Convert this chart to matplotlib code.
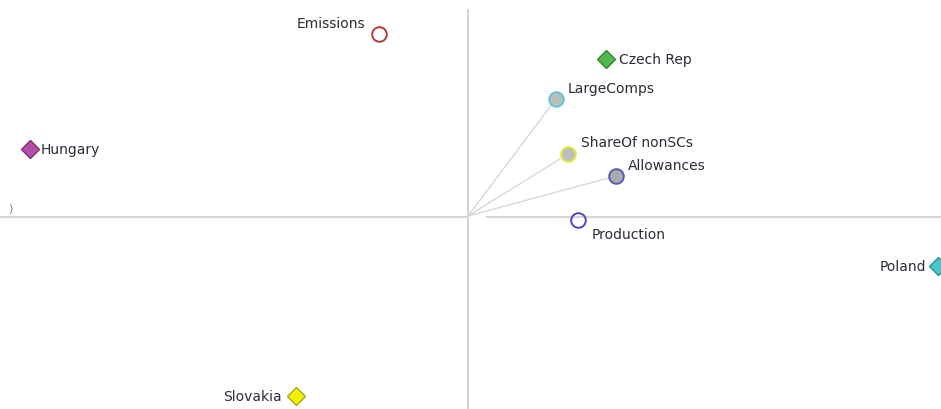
import numpy as np
import matplotlib.pyplot as plt

# variables (circles) and countries (diamonds) on the first two axes
var_names = ['Emissions', 'LargeComps', 'ShareOf nonSCs', 'Allowances', 'Production']
var_x = [-0.89, 0.88, 1.00, 1.48, 1.10]
var_y = [1.82, 1.17, 0.62, 0.40, -0.04]
var_face = ['none', '#bdbdbd', '#bdbdbd', '#ababab', 'none']
var_edge = ['#b53a3a', '#62c6d6', '#e6e63a', '#5a5ab4', '#4848c4']
var_vector = [False, True, True, True, False]

cty_names = ['Czech Rep', 'Hungary', 'Poland', 'Slovakia']
cty_x = [1.38, -4.38, 4.70, -1.72]
cty_y = [1.57, 0.67, -0.50, -1.80]
cty_face = ['#52b84e', '#b44ea6', '#4cc4cc', '#f2f200']
cty_edge = ['#2f8a2f', '#7e2c74', '#2a8f96', '#a8a820']

# label offsets in pixels (dx, dy, ha)
var_off = [(-14, 11, 'right'), (12, 11, 'left'), (13, 12, 'left'), (12, 11, 'left'), (14, -14, 'left')]
cty_off = [(13, 0, 'left'), (11, 0, 'left'), (-12, 0, 'right'), (-14, 0, 'right')]

fig = plt.figure(figsize=(9.41, 4.10), dpi=100)
ax = fig.add_axes([0, 0, 1, 1])
ax.set_xlim(-4.68, 4.73)
ax.set_ylim(-1.93, 2.17)
ax.axis('off')

axis_col = '#d4d4d4'
ax.plot([-4.68, 0.0], [-0.01, -0.01], color=axis_col, lw=1.5, zorder=1)
ax.plot([0.19, 4.73], [-0.01, -0.01], color=axis_col, lw=1.5, zorder=1)
ax.plot([0.0, 0.0], [-1.93, 2.06], color=axis_col, lw=1.5, zorder=1)

for x, y, v in zip(var_x, var_y, var_vector):
    if v:
        ax.plot([0, x], [0, y], color='#d8d8d8', lw=1.0, zorder=2)

txt_col = '#2c2c38'
fs = 10
for n, x, y, fc, ec, (dx, dy, ha) in zip(var_names, var_x, var_y, var_face, var_edge, var_off):
    ax.plot(x, y, 'o', ms=10.5, mfc=fc, mec=ec, mew=1.4, zorder=3, clip_on=False)
    ax.annotate(n, (x, y), xytext=(dx, dy), textcoords='offset pixels',
                ha=ha, va='center', fontsize=fs, color=txt_col, family='DejaVu Sans')

for n, x, y, fc, ec, (dx, dy, ha) in zip(cty_names, cty_x, cty_y, cty_face, cty_edge, cty_off):
    ax.plot(x, y, 'D', ms=9.5, mfc=fc, mec=ec, mew=1.0, zorder=3)
    ax.annotate(n, (x, y), xytext=(dx, dy), textcoords='offset pixels',
                ha=ha, va='center', fontsize=fs, color=txt_col, family='DejaVu Sans')

# clipped label at the left edge
ax.text(-4.58, 0.08, ')', fontsize=8, color='#777777', va='center', ha='center')

fig.savefig('out.png', dpi=100)
